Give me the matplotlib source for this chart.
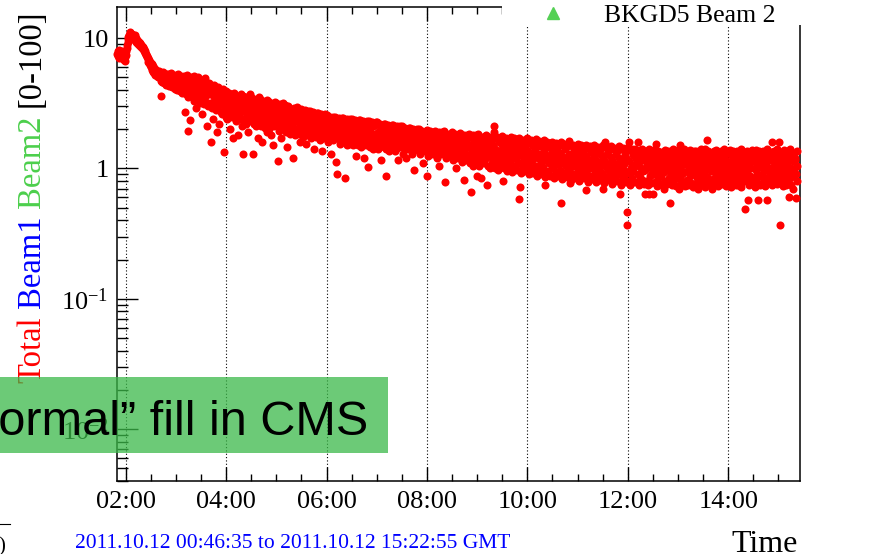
import matplotlib
matplotlib.use("Agg")
import matplotlib.pyplot as plt
from matplotlib.ticker import FixedLocator, MultipleLocator, FuncFormatter, FixedFormatter, LogLocator, NullFormatter
from matplotlib.patches import Rectangle
import numpy as np

# ---------------- data ----------------
sample_start = "01:50:00"      # first sample shown on the axis
row_minutes = 10               # each row holds 10 minutes of readings
samples_per_row = 18           # logger sample every 33.3 s
bkgd_total_rows = [
    [7.6, 7.9, 7.3, 8.1, 7.0, 7.4, 7.8, 7.2, 7.7, 7.1, 8.0, 7.5, 6.9, 7.3, 6.8, 7.0, 6.7, 7.2],
    [7.4, 7.9, 8.4, 8.9, 9.3, 9.8, 10.2, 10.6, 10.3, 10.9, 11.1, 10.5, 10.8, 10.1, 10.7, 10.3, 9.9, 10.4],
    [10.2, 9.8, 10.5, 9.6, 10.0, 9.4, 9.7, 9.2, 9.5, 9.0, 9.3, 8.8, 9.1, 8.7, 8.9, 8.5, 8.8, 8.4],
    [8.7, 8.3, 8.5, 8.0, 8.2, 7.7, 7.9, 7.4, 7.6, 7.1, 7.3, 6.9, 7.0, 6.6, 6.8, 6.4, 6.6, 6.2],
    [6.4, 6.0, 6.3, 5.7, 6.1, 5.5, 5.9, 5.4, 5.8, 5.2, 5.6, 5.3, 5.7, 5.1, 5.5, 5.0, 5.4, 5.2],
    [5.6, 5.0, 5.4, 4.7, 5.3, 3.6, 5.1, 4.6, 5.5, 4.8, 5.2, 4.5, 5.0, 4.9, 4.4, 5.3, 4.7, 5.0],
    [5.3, 4.6, 5.0, 4.3, 5.2, 4.8, 4.4, 5.4, 4.5, 4.9, 4.2, 5.1, 4.7, 4.3, 5.0, 4.6, 4.1, 4.8],
    [5.2, 4.4, 4.9, 4.0, 5.3, 4.6, 4.2, 5.0, 3.9, 4.7, 4.3, 5.1, 4.5, 3.8, 4.8, 4.1, 5.0, 4.4],
    [5.1, 4.3, 2.7, 4.8, 3.7, 5.2, 4.1, 3.5, 4.6, 1.95, 4.9, 3.9, 4.4, 2.35, 5.0, 3.6, 4.2, 4.7],
    [4.9, 3.6, 4.4, 5.1, 3.3, 4.6, 3.9, 2.9, 4.8, 4.1, 3.4, 4.5, 5.0, 3.7, 4.2, 3.2, 4.7, 4.0],
    [4.8, 3.4, 4.2, 2.6, 4.6, 3.8, 3.1, 4.4, 4.9, 3.5, 4.0, 3.2, 4.5, 2.1, 3.7, 4.3, 3.0, 4.1],
    [4.5, 3.2, 4.1, 1.58, 3.7, 4.3, 2.9, 3.9, 2.4, 4.4, 3.5, 3.0, 4.2, 3.3, 2.8, 4.0, 3.6, 1.9],
    [4.2, 3.0, 3.8, 2.2, 4.0, 3.4, 2.7, 3.9, 3.1, 3.6, 2.6, 4.1, 3.3, 1.33, 3.7, 2.9, 3.5, 2.5],
    [3.9, 2.8, 3.5, 2.4, 3.7, 3.1, 2.6, 3.8, 3.0, 2.0, 3.4, 2.7, 3.6, 2.5, 3.2, 1.7, 3.8, 2.9],
    [3.75, 2.7, 3.3, 2.3, 3.6, 2.9, 2.5, 3.4, 1.8, 3.1, 2.6, 3.5, 2.4, 3.0, 2.8, 3.7, 2.1, 3.2],
    [3.6, 1.30, 3.1, 2.4, 3.4, 2.7, 2.2, 3.5, 2.9, 2.5, 3.2, 1.9, 3.0, 2.3, 3.3, 2.6, 3.7, 2.8],
    [3.5, 2.5, 3.0, 1.28, 3.3, 2.7, 2.2, 3.4, 2.9, 2.4, 3.1, 2.1, 3.2, 2.6, 1.7, 3.0, 2.3, 3.5],
    [3.4, 2.4, 2.9, 2.1, 3.2, 2.6, 1.6, 3.3, 2.8, 2.3, 3.0, 2.05, 3.1, 2.5, 2.2, 3.35, 2.7, 1.9],
    [3.3, 2.3, 2.8, 2.0, 3.1, 2.5, 1.8, 3.2, 2.7, 2.2, 2.9, 1.5, 3.0, 2.4, 2.1, 3.25, 2.6, 2.35],
    [3.2, 2.2, 2.7, 1.13, 3.0, 2.4, 1.95, 3.1, 2.6, 2.1, 2.8, 1.7, 2.9, 2.3, 2.0, 3.15, 2.5, 2.25],
    [3.05, 2.1, 2.6, 1.9, 2.9, 2.35, 1.45, 3.0, 2.5, 2.0, 2.7, 1.85, 2.8, 2.2, 2.45, 1.95, 2.65, 2.3],
    [1.21, 2.9, 2.05, 2.5, 1.8, 2.8, 2.3, 1.95, 2.95, 2.4, 2.0, 2.6, 1.85, 2.7, 2.15, 2.55, 1.6, 2.35],
    [2.85, 2.0, 2.45, 1.75, 2.7, 2.2, 1.9, 2.8, 2.35, 1.55, 2.55, 2.1, 2.65, 1.8, 2.3, 2.75, 1.95, 2.5],
    [2.75, 1.95, 2.35, 1.7, 2.6, 2.15, 1.85, 2.7, 2.25, 1.4, 2.5, 2.0, 2.55, 1.75, 2.2, 2.65, 1.9, 2.4],
    [2.65, 1.9, 2.3, 1.65, 2.5, 2.1, 1.8, 2.6, 2.2, 1.35, 2.45, 1.95, 2.55, 1.7, 2.15, 2.6, 1.85, 2.35],
    [2.55, 1.85, 2.2, 1.6, 2.45, 2.0, 1.75, 2.5, 2.1, 1.3, 2.35, 1.9, 2.4, 1.65, 2.05, 2.5, 1.8, 2.25],
    [2.5, 1.8, 2.15, 1.11, 0.91, 2.4, 1.95, 1.7, 2.45, 2.05, 1.55, 2.3, 1.85, 2.35, 1.6, 2.0, 2.45, 1.75],
    [2.45, 1.75, 2.1, 0.85, 2.35, 1.9, 1.65, 2.4, 2.0, 1.5, 2.25, 1.8, 2.3, 1.55, 1.95, 2.4, 1.7, 2.15],
    [2.4, 1.7, 2.05, 1.5, 2.3, 1.85, 1.6, 2.35, 1.95, 1.25, 2.2, 1.75, 2.25, 1.5, 1.9, 2.35, 1.65, 2.1],
    [2.35, 1.65, 2.0, 1.45, 2.25, 1.8, 1.55, 2.3, 1.9, 1.2, 2.15, 1.7, 2.2, 1.5, 1.85, 2.3, 1.6, 2.05],
    [1.02, 2.3, 1.65, 1.95, 1.45, 2.2, 1.75, 1.5, 2.25, 1.85, 1.4, 2.1, 1.7, 2.15, 1.55, 1.8, 2.25, 1.6],
    [2.25, 1.6, 1.9, 1.4, 2.15, 1.7, 1.45, 2.2, 1.8, 1.15, 2.05, 1.65, 2.1, 1.5, 1.75, 2.2, 1.55, 1.95],
    [2.2, 0.88, 1.85, 1.4, 2.1, 1.65, 1.45, 2.15, 1.75, 1.35, 2.0, 1.6, 2.05, 1.5, 1.7, 2.15, 1.55, 1.9],
    [2.15, 1.55, 1.8, 1.35, 2.05, 1.6, 1.4, 2.1, 1.7, 1.15, 1.95, 1.55, 2.0, 1.45, 1.65, 2.1, 1.5, 1.85],
    [2.1, 1.5, 1.75, 1.3, 2.0, 1.6, 1.4, 2.05, 1.7, 1.2, 1.9, 1.5, 1.95, 1.4, 1.65, 2.05, 1.45, 1.8],
    [2.05, 1.5, 1.7, 1.3, 1.95, 1.55, 1.35, 2.0, 0.97, 1.65, 1.85, 1.45, 1.9, 1.4, 1.6, 2.0, 1.45, 1.75],
    [2.0, 1.45, 1.7, 1.3, 1.9, 1.5, 1.35, 1.95, 1.6, 1.1, 1.8, 1.45, 1.85, 1.35, 1.55, 1.95, 1.4, 1.75],
    [1.98, 0.88, 1.65, 1.25, 1.9, 1.5, 1.3, 1.95, 1.6, 1.4, 1.8, 1.45, 1.85, 1.3, 1.55, 1.9, 1.4, 1.7],
    [1.95, 1.4, 1.6, 1.2, 1.85, 1.45, 1.3, 1.9, 1.55, 1.05, 1.75, 1.4, 1.8, 1.3, 1.5, 1.9, 1.35, 1.65],
    [1.92, 1.35, 0.79, 1.6, 1.2, 1.8, 1.45, 1.25, 1.85, 1.55, 1.3, 1.7, 1.4, 1.75, 1.25, 1.5, 1.85, 1.6],
    [1.9, 1.3, 1.55, 1.15, 1.8, 1.4, 1.25, 1.85, 1.5, 1.0, 1.7, 1.35, 1.75, 1.2, 1.45, 1.85, 1.3, 1.6],
    [1.87, 1.3, 1.5, 1.12, 1.75, 1.4, 1.2, 1.8, 0.81, 1.45, 1.65, 1.3, 1.7, 1.15, 1.45, 1.8, 1.25, 1.55],
    [1.85, 1.25, 1.5, 1.1, 1.75, 0.655, 1.35, 1.2, 1.8, 1.45, 1.05, 1.65, 1.3, 1.7, 1.15, 1.4, 1.8, 1.55],
    [0.88, 1.82, 1.25, 1.45, 1.05, 1.7, 1.35, 1.15, 1.75, 0.85, 1.4, 1.6, 1.25, 1.65, 1.1, 1.35, 1.78, 1.5],
    [1.8, 1.2, 1.45, 0.74, 1.7, 1.3, 1.05, 1.75, 1.4, 1.0, 1.6, 1.25, 1.65, 1.1, 1.35, 1.75, 1.15, 1.5],
    [2.1, 1.89, 1.4, 1.0, 1.7, 1.3, 1.1, 1.75, 1.35, 0.98, 1.6, 1.2, 1.65, 1.05, 1.3, 1.72, 1.15, 1.5],
    [1.76, 1.15, 0.8, 1.4, 1.0, 1.65, 1.25, 1.05, 1.7, 1.35, 0.96, 1.55, 1.2, 1.6, 1.1, 1.3, 1.7, 1.45],
    [1.74, 1.15, 1.4, 0.94, 1.65, 1.25, 1.0, 1.7, 1.35, 1.05, 1.55, 1.2, 1.6, 0.98, 1.3, 1.68, 1.1, 1.45],
    [1.72, 0.58, 0.72, 1.1, 1.4, 0.92, 1.6, 1.25, 1.0, 1.65, 1.3, 0.95, 1.5, 1.15, 1.55, 1.05, 1.35, 1.68],
    [1.7, 1.1, 1.35, 0.9, 1.6, 1.2, 0.97, 1.65, 1.3, 1.0, 1.5, 1.15, 1.55, 0.93, 1.25, 1.62, 1.05, 1.4],
    [1.67, 1.05, 1.3, 0.88, 1.58, 1.2, 0.95, 1.62, 1.28, 0.98, 1.48, 1.12, 1.52, 0.9, 1.22, 1.6, 1.02, 1.38],
    [1.64, 0.74, 1.3, 0.86, 1.55, 1.15, 0.93, 1.6, 1.25, 0.96, 1.45, 1.1, 1.5, 0.88, 1.2, 1.57, 1.0, 1.35],
    [1.6, 1.02, 1.28, 0.84, 1.52, 1.12, 0.9, 1.56, 1.22, 0.94, 1.42, 1.08, 1.48, 0.87, 1.18, 1.55, 0.98, 1.32],
    [1.58, 0.54, 1.25, 0.83, 1.5, 1.1, 0.9, 1.54, 1.2, 0.92, 1.4, 1.05, 1.45, 0.86, 1.15, 1.52, 0.97, 1.3],
    [1.61, 1.0, 0.77, 1.25, 0.82, 1.48, 1.1, 0.88, 1.52, 1.18, 0.9, 1.38, 1.04, 1.44, 0.85, 1.14, 1.5, 1.28],
    [1.54, 0.98, 1.22, 0.8, 1.46, 1.08, 0.87, 1.5, 1.16, 0.9, 1.36, 1.02, 1.42, 0.84, 1.12, 1.48, 0.95, 1.26],
    [0.68, 1.52, 0.97, 1.2, 0.79, 1.44, 1.06, 0.86, 1.48, 1.14, 0.88, 1.34, 1.0, 1.4, 0.83, 1.1, 1.46, 1.25],
    [1.5, 0.95, 1.18, 0.78, 1.42, 1.05, 0.85, 1.46, 1.12, 0.87, 1.32, 0.99, 1.38, 0.82, 1.08, 1.44, 0.93, 1.24],
    [1.5, 0.70, 1.16, 0.77, 1.58, 1.04, 0.84, 1.45, 1.1, 0.86, 1.3, 0.98, 1.36, 0.81, 1.07, 1.43, 0.92, 1.22],
    [1.48, 0.93, 1.15, 0.76, 1.4, 1.03, 0.83, 1.44, 1.09, 0.85, 1.29, 0.97, 1.35, 0.8, 1.06, 1.42, 0.91, 1.21],
    [1.48, 0.92, 0.64, 1.14, 0.75, 1.4, 1.02, 0.83, 1.44, 1.08, 0.85, 1.28, 0.96, 1.34, 0.79, 1.2, 0.46, 0.37],
    [1.45, 0.92, 1.13, 1.58, 0.75, 1.38, 1.01, 0.82, 1.42, 1.07, 0.84, 1.27, 0.95, 1.33, 0.78, 1.04, 1.4, 1.19],
    [1.06, 0.78, 1.33, 0.9, 1.2, 1.58, 0.74, 1.12, 1.38, 0.86, 1.0, 1.26, 0.81, 1.41, 0.95, 1.16, 0.76, 1.3],
    [0.64, 1.22, 0.97, 1.37, 0.8, 1.09, 1.3, 0.74, 1.17, 0.64, 1.41, 0.88, 1.03, 1.25, 0.77, 1.34, 0.93, 1.13],
    [1.28, 0.64, 0.91, 1.14, 1.4, 0.79, 1.55, 1.02, 0.73, 1.21, 0.96, 1.35, 0.85, 1.08, 1.31, 0.76, 1.18, 0.99],
    [0.87, 1.33, 1.05, 0.74, 1.24, 0.7, 0.94, 1.39, 1.11, 0.8, 1.29, 0.97, 1.18, 0.76, 1.36, 1.01, 0.84, 1.2],
    [1.17, 0.54, 1.36, 0.89, 1.07, 0.75, 1.28, 0.97, 1.4, 0.81, 1.13, 0.92, 1.32, 0.73, 1.02, 1.23, 0.86, 1.38],
    [0.98, 1.3, 0.7, 1.14, 0.83, 1.5, 1.04, 0.76, 1.37, 0.9, 1.22, 0.79, 1.1, 1.4, 0.94, 1.26, 0.73, 1.16],
    [1.34, 0.82, 1.06, 1.25, 0.74, 1.15, 0.96, 1.39, 0.87, 1.2, 0.77, 1.02, 1.31, 0.91, 1.12, 0.72, 1.36, 0.99],
    [0.9, 1.19, 0.76, 1.37, 1.03, 0.84, 1.27, 0.69, 1.1, 1.33, 0.95, 1.14, 0.79, 1.4, 1.0, 0.87, 1.23, 0.74],
    [1.12, 0.78, 1.3, 0.93, 1.4, 0.72, 1.05, 1.21, 0.86, 1.64, 0.99, 1.35, 0.8, 1.16, 0.75, 1.27, 0.95, 1.08],
    [1.27, 0.95, 0.7, 1.18, 0.83, 1.36, 1.04, 0.76, 1.24, 0.9, 1.39, 0.8, 1.1, 0.97, 1.31, 0.73, 1.15, 0.88],
    [0.85, 1.22, 1.01, 1.37, 0.76, 1.13, 0.92, 1.3, 0.79, 1.06, 1.41, 0.88, 1.19, 0.73, 0.98, 1.34, 0.82, 1.1],
    [0.95, 1.31, 0.77, 1.12, 1.38, 0.85, 1.04, 0.72, 1.25, 0.9, 1.18, 1.36, 0.8, 1.07, 0.99, 1.29, 0.74, 1.21],
    [1.22, 0.88, 1.36, 0.75, 1.08, 0.97, 1.3, 0.82, 1.16, 0.72, 1.4, 1.02, 0.79, 1.26, 0.93, 1.12, 1.34, 0.86],
    [1.04, 0.49, 1.28, 0.8, 1.36, 0.94, 0.57, 1.19, 0.74, 1.1, 1.33, 0.88, 1.23, 0.77, 1.0, 1.38, 0.84, 1.14],
    [1.32, 0.83, 1.15, 0.72, 1.27, 0.97, 1.39, 0.78, 1.06, 0.9, 1.21, 0.57, 1.35, 0.87, 1.11, 0.75, 1.02, 1.25],
    [0.9, 1.24, 0.76, 1.37, 1.05, 0.83, 1.17, 0.73, 1.31, 0.98, 1.1, 0.57, 1.4, 0.86, 1.2, 0.8, 1.28, 1.01],
    [1.15, 0.79, 1.33, 0.95, 1.58, 0.74, 1.22, 1.03, 0.87, 1.37, 0.81, 1.09, 1.27, 0.92, 0.76, 1.18, 1.41, 0.99],
    [1.26, 1.58, 0.84, 1.12, 0.37, 0.96, 1.34, 0.78, 1.2, 1.04, 0.73, 1.39, 0.89, 1.16, 0.81, 1.3, 1.0, 0.75],
    [1.08, 0.77, 1.35, 0.92, 1.19, 0.6, 1.28, 0.85, 1.42, 1.0, 0.74, 1.23, 0.88, 1.13, 0.7, 1.32, 0.97, 1.17],
    [1.2, 0.59, 0.9, 1.35, 1.05, 0.8],
]

x_tick_hours = [2, 4, 6, 8, 10, 12, 14]
y_tick_values = [0.01, 0.1, 1, 10]
y_tick_labels = [r"$\mathregular{10^{-2}}$", r"$\mathregular{10^{-1}}$", "1", "10"]

ylabel_parts = [("Total", "#ff0000"), ("Beam1", "#0000ff"), ("Beam2", "#4ccf4c"), ("[0-100]", "#000000")]
legend_label = "BKGD5 Beam 2"
range_text = "2011.10.12 00:46:35 to 2011.10.12 15:22:55 GMT"
x_title = "Time"
banner_text = "A \u201cnormal\u201d fill in CMS"

# ---------------- build series ----------------
values = np.array([v for row in bkgd_total_rows for v in row])
h, m, s = (int(p) for p in sample_start.split(":"))
t0 = h + m / 60 + s / 3600
step_h = row_minutes / 60.0 / samples_per_row
times = t0 + np.arange(len(values)) * step_h

# ---------------- figure ----------------
plt.rcParams["font.family"] = ["Liberation Serif", "DejaVu Serif"]
plt.rcParams["mathtext.fontset"] = "custom"
plt.rcParams["mathtext.rm"] = "Liberation Serif"

W, H = 883, 554
fig = plt.figure(figsize=(W / 100, H / 100), dpi=100)
ax = fig.add_axes([117 / W, (H - 481) / H, (800 - 117) / W, (481 - 7) / H])

ax.plot(times, values, linestyle="none", marker="o", ms=5.8, color="#ff0000",
        markeredgewidth=0, zorder=3, clip_on=False)

ax.set_yscale("log")
ax.set_xlim(1.827, 15.43)
ax.set_ylim(0.004, 17.3)

ax.xaxis.set_major_locator(FixedLocator(x_tick_hours))
ax.xaxis.set_minor_locator(MultipleLocator(0.5))
ax.xaxis.set_major_formatter(FuncFormatter(lambda v, p: f"{int(round(v)):02d}:00"))
ax.yaxis.set_major_locator(FixedLocator(y_tick_values))
ax.yaxis.set_major_formatter(FixedFormatter(y_tick_labels))
ax.yaxis.set_minor_locator(LogLocator(base=10, subs=np.arange(2, 10)))
ax.yaxis.set_minor_formatter(NullFormatter())

ax.tick_params(axis="x", which="major", direction="in", length=10, width=1.0,
               top=True, bottom=True, labelsize=19, pad=7)
ax.tick_params(axis="x", which="minor", direction="in", length=5, width=1.0,
               top=True, bottom=True)
ax.tick_params(axis="y", which="major", direction="in", length=15, width=1.0,
               left=True, right=False, labelsize=19, pad=6)
ax.tick_params(axis="y", which="minor", direction="in", length=8, width=1.0,
               left=True, right=False)

ax.grid(axis="x", which="major", linestyle=(0, (1, 2)), color="black", linewidth=0.8)
for sp in ax.spines.values():
    sp.set_linewidth(1.1)

# legend area (white box hiding top right frame)
fig.add_artist(Rectangle((502 / W, (H - 25) / H), (W - 502) / W, 25 / H,
                         transform=fig.transFigure, facecolor="white",
                         edgecolor="none", zorder=5))
fig.lines.append(plt.Line2D([553 / W], [(H - 13) / H], transform=fig.transFigure,
                            marker="^", ms=9, color="#55d055", linestyle="none",
                            zorder=6))
fig.text(604 / W, (H - 22) / H, legend_label, fontsize=18.5, ha="left",
         va="baseline", zorder=6)

# y-axis title with coloured pieces
renderer = fig.canvas.get_renderer()
def text_width(s, size):
    t = fig.text(0, 0, s, fontsize=size)
    w = t.get_window_extent(renderer).width
    t.remove()
    return w

ysize = 23.5
y_pos = 383.0
bar_w = text_width("|", ysize)
for txt, col in ylabel_parts:
    fig.text(40 / W, (H - y_pos) / H, txt, rotation=90, rotation_mode="anchor",
             ha="left", va="baseline", fontsize=ysize, color=col, zorder=2)
    y_pos -= text_width(txt + " |", ysize) - bar_w

# bottom texts
fig.text(75 / W, (H - 548) / H, range_text, fontsize=15.5, color="#0000ff",
         ha="left", va="baseline")
fig.text(798 / W, (H - 552) / H, x_title, fontsize=23, ha="right", va="baseline")

# remnants of neighbouring slide content
fig.lines.append(plt.Line2D([0, 10 / W], [(H - 524) / H] * 2, transform=fig.transFigure,
                            color="black", linewidth=0.8))
fig.text(-2 / W, (H - 551) / H, ")", fontsize=15, ha="left", va="baseline")

# green banner
fig.add_artist(Rectangle((0, (H - 453) / H), 388 / W, 76 / H, transform=fig.transFigure,
                         facecolor="#3bb949", alpha=0.75, edgecolor="none", zorder=10))
fig.text(368 / W, (H - 435) / H, banner_text, fontsize=35, ha="right", va="baseline",
         family=["Liberation Sans", "DejaVu Sans"], color="black", zorder=11)

fig.savefig("out.png", dpi=100)
